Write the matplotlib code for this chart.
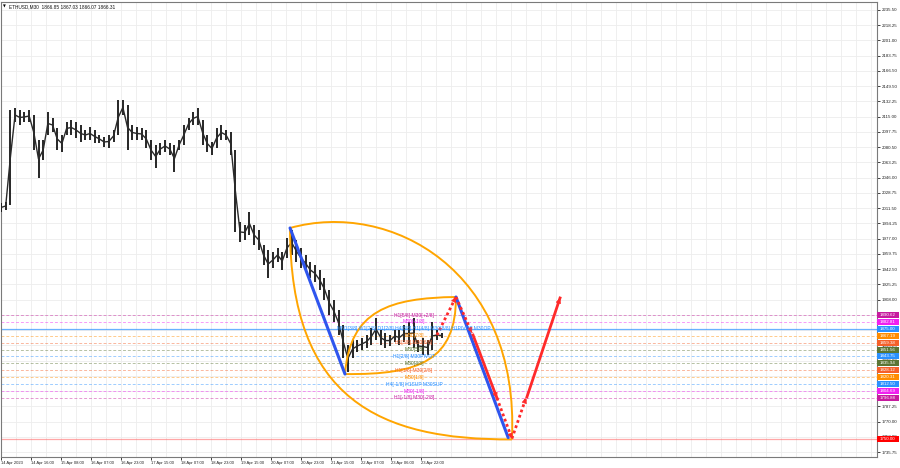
import matplotlib
matplotlib.use("Agg")
import matplotlib.pyplot as plt
import matplotlib.transforms as mtransforms
from matplotlib.path import Path
from matplotlib.patches import PathPatch, Rectangle

# ETHUSD M30, high/low read every 5 bars
bar_step = 5
highs = [2017.3, 2018.4, 2122.4, 2124.7, 2122.4, 2120.2, 2122.4, 2116.8, 2088.5, 2088.5,
         2120.2, 2113.4, 2102.1, 2094.2, 2108.9, 2111.1, 2108.9, 2105.5, 2099.8, 2103.2,
         2099.8, 2094.2, 2091.9, 2094.2, 2099.8, 2133.7, 2133.7, 2128.1, 2105.5, 2103.2,
         2102.1, 2099.8, 2088.5, 2082.8, 2085.1, 2088.5, 2085.1, 2082.8, 2088.5, 2105.5,
         2113.4, 2120.2, 2124.7, 2111.1, 2094.2, 2086.2, 2102.1, 2105.5, 2099.8, 2097.5,
         2077.2, 1995.8, 1992.4, 2007.1, 1992.4, 1986.7, 1969.8, 1964.1, 1961.9, 1966.4,
         1961.9, 1977.7, 1986.7, 1975.4, 1966.4, 1958.5, 1950.6, 1947.2, 1941.5, 1932.5,
         1918.9, 1907.6, 1896.3, 1879.2, 1856.7, 1862.4, 1862.4, 1864.6, 1867.9, 1875.8,
         1887.2, 1873.6, 1870.2, 1867.9, 1873.6, 1873.6, 1879.2, 1882.7, 1887.2, 1862.4,
         1864.6, 1862.4, 1882.7, 1873.6, 1870.2]
lows = [2007.1, 2009.4, 2015.0, 2108.9, 2105.5, 2108.9, 2108.9, 2077.2, 2045.5, 2065.9,
        2094.2, 2097.5, 2077.2, 2074.9, 2094.2, 2094.2, 2090.8, 2086.2, 2088.5, 2088.5,
        2085.1, 2085.1, 2080.6, 2079.4, 2086.2, 2094.2, 2116.8, 2077.2, 2088.5, 2088.5,
        2088.5, 2079.4, 2065.9, 2056.8, 2071.5, 2074.9, 2071.5, 2052.3, 2077.2, 2082.8,
        2099.8, 2105.5, 2105.5, 2082.8, 2074.9, 2071.5, 2079.4, 2088.5, 2088.5, 2071.5,
        1984.5, 1973.2, 1975.4, 1981.1, 1969.8, 1964.1, 1947.2, 1932.5, 1943.8, 1950.6,
        1941.5, 1955.1, 1958.5, 1950.6, 1943.8, 1939.3, 1932.5, 1927.9, 1918.9, 1907.6,
        1890.6, 1882.7, 1867.9, 1842.0, 1826.2, 1842.0, 1848.8, 1851.1, 1853.3, 1856.7,
        1862.4, 1856.7, 1853.3, 1855.6, 1860.1, 1856.7, 1860.1, 1856.7, 1853.3, 1848.8,
        1845.4, 1845.4, 1851.1, 1862.4, 1864.6]

time_labels = ["14 Apr 2023", "14 Apr 16:00", "15 Apr 08:00", "16 Apr 07:00", "16 Apr 23:00",
               "17 Apr 15:00", "18 Apr 07:00", "18 Apr 23:00", "19 Apr 15:00", "20 Apr 07:00",
               "20 Apr 23:00", "21 Apr 15:00", "22 Apr 07:00", "23 Apr 06:00", "23 Apr 22:00"]
time_label_step = 32

price_ticks = ["2235.50", "2218.25", "2201.00", "2183.75", "2166.50", "2149.50", "2132.25",
               "2115.00", "2097.75", "2080.50", "2063.25", "2046.00", "2028.75", "2011.50",
               "1994.25", "1977.00", "1959.75", "1942.50", "1925.25", "1908.00", "1890.75",
               "1873.50", "1856.25", "1839.00", "1821.75", "1804.50", "1787.25", "1770.00",
               "1753.00", "1735.75"]

# murrey levels
level_prices = [1890.62, 1882.81, 1875.00, 1867.19, 1859.38, 1851.56, 1843.75,
                1835.94, 1828.12, 1820.31, 1812.50, 1804.69, 1796.88]
level_colors = ["#c71b9f", "#f020f0", "#2a90ff", "#ff8c00", "#f5602a", "#5b7534", "#2a90ff",
                "#5b7534", "#f5602a", "#ff8c00", "#2a90ff", "#f020f0", "#c71b9f"]
level_names = ["H1[5/8] M30[+2/8]", "M30[+1/8]",
               "MN1[3/8] W1[2/8] D1[2/8] H4[8/8] H1[4/8] M30[8/8] H1PIVOT M30OP",
               "M30[7/8]", "H1[3/8] M30[6/8]", "M30[5/8]", "H1[2/8] M30PIVOT", "M30[3/8]",
               "H1[1/8] M30[2/8]", "M30[1/8]", "H4[-1/8] H1SUP M30SUP", "M30[-1/8]",
               "H1[-1/8] M30[-2/8]"]
target_price = 1750.00

# drawn objects, (bar, price)
blue_legs = [[(308.3, 1989.0), (366.9, 1823.9)],
             [(485.3, 1911.0), (541.0, 1752.0)]]
orange_arcs = [[(308.3, 1989.0), (414.9, 2020.7), (553.6, 1941.5), (545.0, 1750.0)],
               [(308.3, 1989.0), (308.3, 1794.5), (404.3, 1749.3), (545.0, 1750.0)],
               [(366.9, 1823.9), (372.3, 1896.3), (414.9, 1909.9), (485.3, 1911.0)],
               [(366.9, 1823.9), (446.9, 1822.8), (485.3, 1839.8), (485.3, 1911.0)]]
red_moves = [[(465.0, 1868.0), (485.3, 1911.0), "dot"],
             [(485.3, 1911.0), (502.4, 1870.3), "dot"],
             [(503.5, 1868.0), (529.0, 1796.8), "solid"],
             [(529.0, 1796.8), (545.0, 1751.0), "dot"],
             [(545.0, 1751.0), (560.0, 1796.8), "dot"],
             [(561.0, 1798.0), (596.3, 1909.9), "solid"]]

px_per_bar = 0.9375
px_per_price = 0.8844
small = 3.2

fig = plt.figure(figsize=(9, 4.68), dpi=100)
ax = fig.add_axes([1 / 900, 11 / 468, 876 / 900, 455 / 468])
ax.set_xlim(0, 876 / px_per_bar)
ax.set_ylim(1730.1, 2244.5)

# grid
tick_vals = [float(t) for t in price_ticks]
for v in tick_vals:
    ax.axhline(v, color="#ededed", lw=0.6, zorder=0)
for b in range(0, 940, 16):
    ax.axvline(b, color="#ededed", lw=0.6, zorder=0)

# levels
for p, c in zip(level_prices, level_colors):
    if p == 1875.00:
        ax.axhline(p, color=c, lw=0.9, alpha=0.7, zorder=1)
    else:
        ax.axhline(p, color=c, lw=0.7, alpha=0.45, dashes=(3, 2), zorder=1)
ax.axhline(target_price, color="#ff6060", lw=0.9, alpha=0.55, zorder=1)

# candles
xs = [i * bar_step for i in range(len(highs))]
mids = [(h + l) / 2 for h, l in zip(highs, lows)]
ax.vlines(xs, lows, highs, color="#151515", lw=1.3, zorder=3)
ax.plot(xs, mids, color="#2a2a2a", lw=1.0, zorder=3)

# orange arcs
for pts in orange_arcs:
    path = Path(pts, [Path.MOVETO, Path.CURVE4, Path.CURVE4, Path.CURVE4])
    ax.add_patch(PathPatch(path, fc="none", ec="#ffa500", lw=1.4, zorder=4))

# blue legs
for (x0, y0), (x1, y1) in blue_legs:
    ax.plot([x0, x1], [y0, y1], color="#2f55ee", lw=2.2, zorder=5, solid_capstyle="round")

# red arrows
for (x0, y0), (x1, y1), style in red_moves:
    ls = (0, (1, 1)) if style == "dot" else "-"
    ax.plot([x0, x1], [y0, y1], color="#ff2a2a", lw=2.0, linestyle=ls, zorder=6)
    ax.annotate("", xy=(x1, y1), xytext=(x1 - 0.05 * (x1 - x0), y1 - 0.05 * (y1 - y0)),
                arrowprops=dict(arrowstyle="-|>", color="#ff2a2a", lw=0.5,
                                mutation_scale=8, shrinkA=0, shrinkB=0), zorder=6)

# level names
for p, c, n in zip(level_prices, level_colors, level_names):
    ax.text(440.5, p, n, color=c, fontsize=small + 0.4, ha="center", va="center",
            family="Liberation Sans", zorder=7)

# axes styling
for s in ["left", "top", "right", "bottom"]:
    ax.spines[s].set_color("#7a7a7a")
    ax.spines[s].set_linewidth(0.8)
ax.yaxis.tick_right()
box_prices = level_prices + [target_price]
shown = [t for t in price_ticks if min(abs(float(t) - b) for b in box_prices) > 2.5]
ax.set_yticks([float(t) for t in shown])
ax.set_yticklabels(shown)
ax.tick_params(axis="y", length=2, width=0.6, pad=1.5, labelsize=small, colors="#222222")
ax.set_xticks([i * time_label_step for i in range(len(time_labels))])
ax.set_xticklabels(time_labels)
ax.tick_params(axis="x", length=2, width=0.6, pad=1, labelsize=small - 0.2, colors="#222222")
for lbl in ax.get_xticklabels() + ax.get_yticklabels():
    lbl.set_family("Liberation Sans")
for lbl in ax.get_xticklabels():
    lbl.set_ha("left")

# price boxes on the scale
trans = mtransforms.blended_transform_factory(ax.transAxes, ax.transData)
bw = 22 / 876
bh = 6 / px_per_price
for p, c in zip(box_prices, level_colors + ["#ff0000"]):
    ax.add_patch(Rectangle((1.0, p - bh / 2), bw, bh, transform=trans, fc=c, ec="none",
                           clip_on=False, zorder=9))
    ax.text(1 + 2.5 / 876, p, f"{p:.2f}", transform=trans, color="white", fontsize=small,
            family="Liberation Sans", ha="left", va="center", clip_on=False, zorder=10)

# header
ax.text(0.002, 0.994, "\u25bc", transform=ax.transAxes, fontsize=2.6, va="top", ha="left")
ax.text(0.009, 0.995, "ETHUSD,M30  1866.85 1867.03 1866.07 1866.31", transform=ax.transAxes,
        fontsize=small + 0.2, family="Liberation Sans", va="top", ha="left", color="#111111")

fig.savefig("out.png", dpi=100)
